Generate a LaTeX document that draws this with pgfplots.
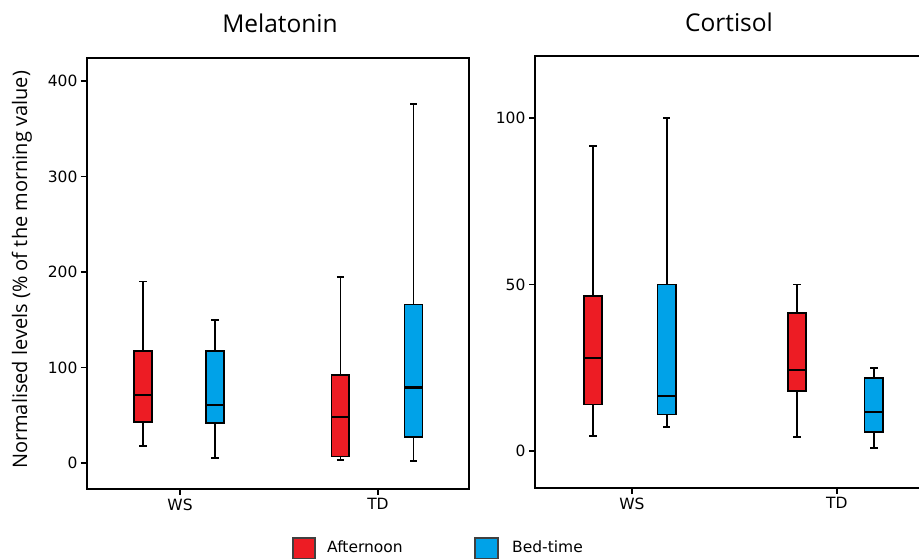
\documentclass[border=0pt]{standalone}
\usepackage{pgfplots}
\pgfplotsset{compat=1.18}
\usepackage{fontspec}
\setmainfont{Open Sans}
\newfontfamily\tickfont{DejaVu Sans}
\definecolor{cred}{RGB}{237,28,36}
\definecolor{cblue}{RGB}{0,162,232}
\pgfplotsset{
  mybox/.style={
    scale only axis, anchor=south west,
    axis line style={line width=1.8pt},
    tick style={line width=1.4pt, black},
    tickpos=left, tick align=outside, major tick length=6pt,
    xtick={1,2}, xticklabels={WS,TD},
    ticklabel style={font=\tickfont\fontsize{15.5}{16}\selectfont},
    /pgf/number format/assume math mode=true,
    clip=false,
  },
}
% one box: position, lower whisker, Q1, median, Q3, upper whisker, colour
\newcommand{\bx}[7]{%
  \pgfmathsetmacro\bxl{#1-0.045}\pgfmathsetmacro\bxr{#1+0.045}%
  \pgfmathsetmacro\bcl{#1-0.018}\pgfmathsetmacro\bcr{#1+0.018}%
  \addplot[black, line width=1.6pt] coordinates {(#1,#2) (#1,#3)};
  \addplot[black, line width=1.6pt] coordinates {(#1,#5) (#1,#6)};
  \addplot[black, line width=1.8pt] coordinates {(\bcl,#2) (\bcr,#2)};
  \addplot[black, line width=1.8pt] coordinates {(\bcl,#6) (\bcr,#6)};
  \addplot[fill=#7, draw=black, line width=1.6pt] coordinates {(\bxl,#3) (\bxr,#3) (\bxr,#5) (\bxl,#5)} -- cycle;
  \addplot[black, line width=2.4pt] coordinates {(\bxl,#4) (\bxr,#4)};
}
\begin{document}
\begin{tikzpicture}
% Melatonin
\begin{axis}[mybox, at={(87pt,70pt)}, width=382pt, height=431pt,
  xmin=0.530, xmax=2.460, ymin=-27.2, ymax=424,
  ytick={0,100,200,300,400}]
\bx{0.813}{18}{43}{71}{117}{190}{cred}
\bx{1.177}{5}{42}{61}{117}{150}{cblue}
\bx{1.81}{3}{7}{48}{92}{195}{cred}
\bx{2.18}{2}{27}{79}{166}{376}{cblue}
\end{axis}
% Cortisol
\begin{axis}[mybox, at={(535pt,71pt)}, width=395pt, height=432pt,
  xmin=0.527, xmax=2.454, ymin=-11.1, ymax=118.6,
  ytick={0,50,100}]
\bx{0.81}{4.5}{14}{28}{46.5}{91.6}{cred}
\bx{1.17}{7.3}{11}{16.5}{50}{100}{cblue}
\bx{1.805}{4.2}{18}{24.3}{41.5}{50}{cred}
\bx{2.18}{1}{5.8}{11.7}{22}{25}{cblue}
\end{axis}
% titles and labels
\node[anchor=base, font=\fontsize{24.5}{25}\selectfont] at (280pt,526pt) {Melatonin};
\node[anchor=base, font=\fontsize{24.5}{25}\selectfont] at (729pt,527pt) {Cortisol};
\node[anchor=base, rotate=90, font=\fontsize{20}{20}\selectfont] at (27pt,289pt) {Normalised levels (\% of the morning value)};
% legend
\draw[fill=cred, draw=black!75, line width=1.3pt] (293pt,0pt) rectangle (315pt,21pt);
\node[anchor=base west, inner sep=0pt, font=\tickfont\fontsize{15.5}{16}\selectfont] at (327pt,6pt) {Afternoon};
\draw[fill=cblue, draw=black!75, line width=1.3pt] (475pt,0pt) rectangle (498pt,21pt);
\node[anchor=base west, inner sep=0pt, font=\tickfont\fontsize{15.5}{16}\selectfont] at (512pt,6pt) {Bed-time};
\pgfresetboundingbox
\useasboundingbox (0pt,0pt) rectangle (919pt,559pt);
\end{tikzpicture}
\end{document}
